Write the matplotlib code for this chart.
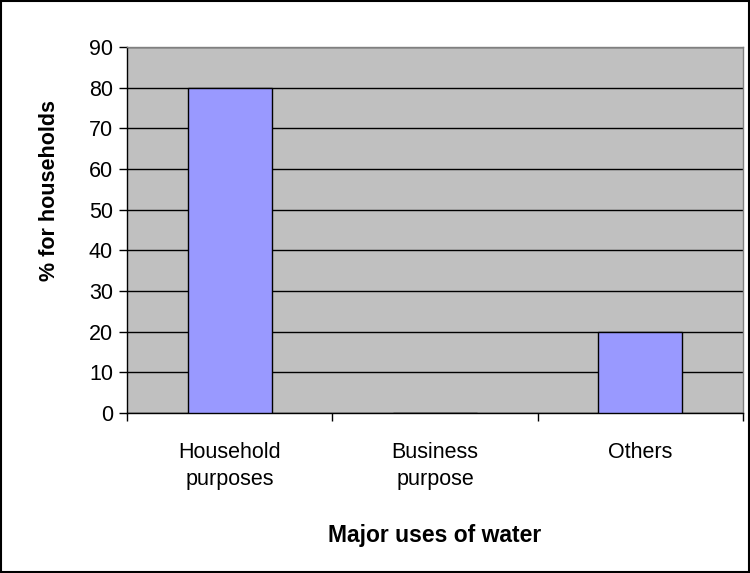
import matplotlib.pyplot as plt
import numpy as np
from matplotlib.patches import Rectangle

plt.rcParams['font.family'] = ['Liberation Sans', 'DejaVu Sans']

categories = ['Household\npurposes', 'Business\npurpose', 'Others']
values = [80, 0, 20]
yticks = [0, 10, 20, 30, 40, 50, 60, 70, 80, 90]

fig = plt.figure(figsize=(7.5, 5.73), dpi=100)
ax = fig.add_axes([127/750, 1-413/573, 616/750, 366/573])
ax.set_facecolor('#c0c0c0')

x = np.arange(len(categories))
ax.bar(x, values, width=0.41, color='#9999ff', edgecolor='black', linewidth=1, zorder=3)

ax.set_xlim(-0.5, 2.5)
ax.set_ylim(0, 90)
ax.set_yticks(yticks)
ax.yaxis.grid(True, color='black', linewidth=1, zorder=0)
ax.set_axisbelow(True)

# category boundaries get the ticks, names sit in between
ax.set_xticks([-0.5, 0.5, 1.5, 2.5])
ax.set_xticklabels([])
ax.set_xticks(x, minor=True)
ax.set_xticklabels(categories, minor=True, fontsize=15.5, linespacing=1.35)
ax.tick_params(axis='x', which='minor', length=0, pad=21)
ax.tick_params(axis='x', which='major', length=6, width=1, direction='out')
ax.tick_params(axis='y', length=6, width=1, direction='out', labelsize=15.5, pad=4)

for s in ['top', 'right']:
    ax.spines[s].set_color('#808080')
    ax.spines[s].set_linewidth(1)
for s in ['left', 'bottom']:
    ax.spines[s].set_color('black')
    ax.spines[s].set_linewidth(1)

ax.set_xlabel('Major uses of water', fontsize=16.5, fontweight='bold')
ax.xaxis.label.set_va('center')
ax.xaxis.set_label_coords(0.5, -0.336)
ax.set_ylabel('% for households', fontsize=15.5, fontweight='bold')
ax.yaxis.label.set_va('center')
ax.yaxis.set_label_coords(-0.125, 0.607)

fig.patches.append(Rectangle((0.001, 0.001), 0.998, 0.998, transform=fig.transFigure,
                             fill=False, edgecolor='black', linewidth=1.5))

plt.savefig('out.png', dpi=100)
